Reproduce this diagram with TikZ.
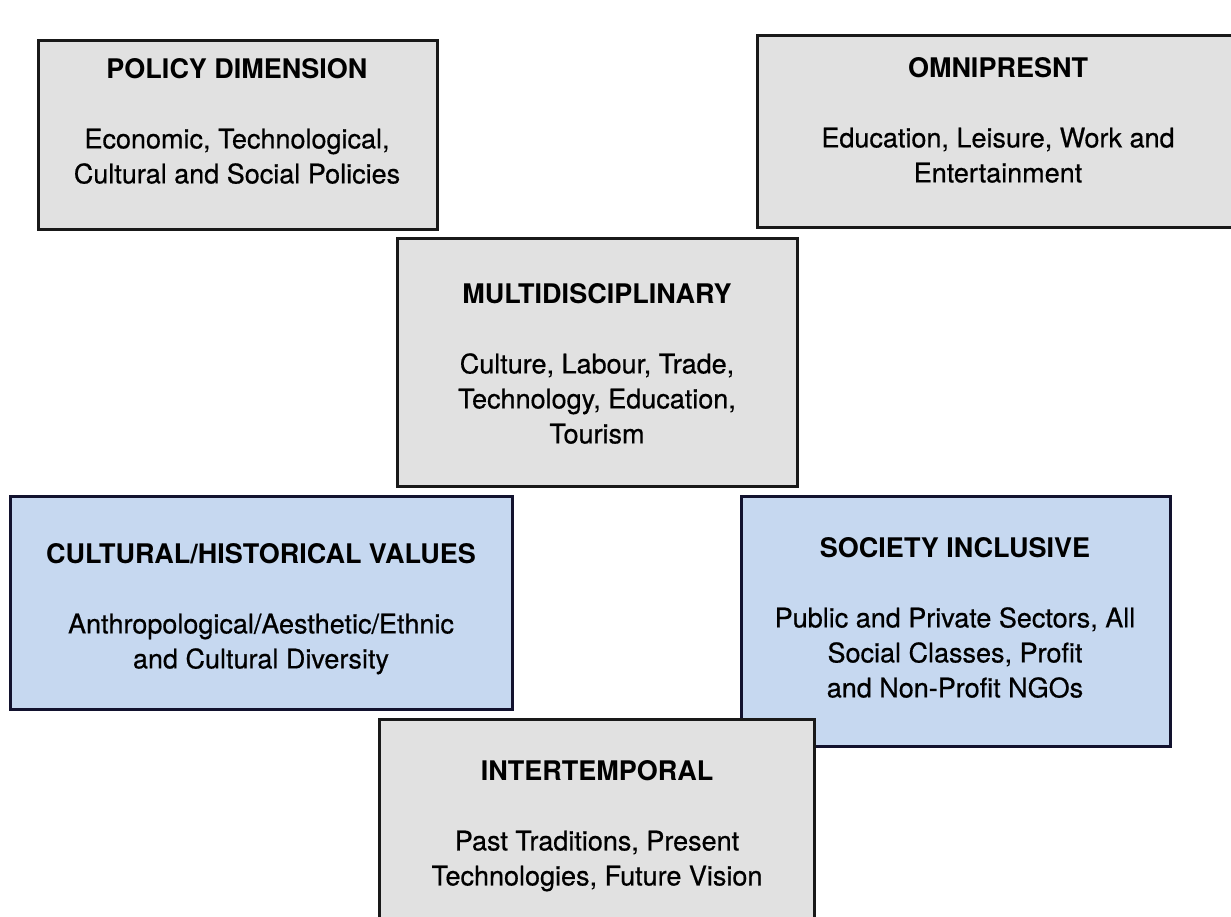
\documentclass[tikz,border=0pt]{standalone}
\usepackage{fontspec}
\setmainfont{TeX Gyre Heros}[UprightFeatures={FakeBold=0.6}]
\definecolor{boxgray}{HTML}{E1E1E1}
\definecolor{boxblue}{HTML}{C6D8F0}
\definecolor{bluerim}{HTML}{12122E}

\begin{document}
\begin{tikzpicture}[x=0.5pt,y=-0.5pt]
    \tikzstyle{every node}+=[inner sep=0pt, align=center, anchor=north, font=\fontsize{13.5}{17.5}\selectfont]
    \tikzstyle{graybox}=[draw=black!90, fill=boxgray, line width=1.5pt]
    \tikzstyle{bluebox}=[draw=bluerim, fill=boxblue, line width=1.5pt]
    \clip (0,0) rectangle (1231,916);
    \draw [graybox] (38,40) rectangle (437,229);
    \node (policy) at (237,58) {\textbf{POLICY DIMENSION}\\[17.5pt]Economic, Technological,\\Cultural and Social Policies};
    \draw [graybox] (757,35) rectangle (1240,227);
    \node (omni) at (998,57) {\textbf{OMNIPRESNT}\\[17.5pt]Education, Leisure, Work and\\Entertainment};
    \draw [graybox] (397,238) rectangle (797,486);
    \node (multi) at (597,283) {\textbf{MULTIDISCIPLINARY}\\[17.5pt]Culture, Labour, Trade,\\Technology, Education,\\Tourism};
    \draw [bluebox] (10,496) rectangle (512,709);
    \node (values) at (261,543) {\textbf{CULTURAL/HISTORICAL VALUES}\\[17.5pt]Anthropological/Aesthetic/Ethnic\\and Cultural Diversity};
    \draw [bluebox] (741,496) rectangle (1170,746);
    \node (society) at (955,537) {\textbf{SOCIETY INCLUSIVE}\\[17.5pt]Public and Private Sectors, All\\Social Classes, Profit\\and Non-Profit NGOs};
    \draw [graybox] (379,719) rectangle (814,930);
    \node (intertemp) at (597,760) {\textbf{INTERTEMPORAL}\\[17.5pt]Past Traditions, Present\\Technologies, Future Vision};
\end{tikzpicture}
\end{document}
